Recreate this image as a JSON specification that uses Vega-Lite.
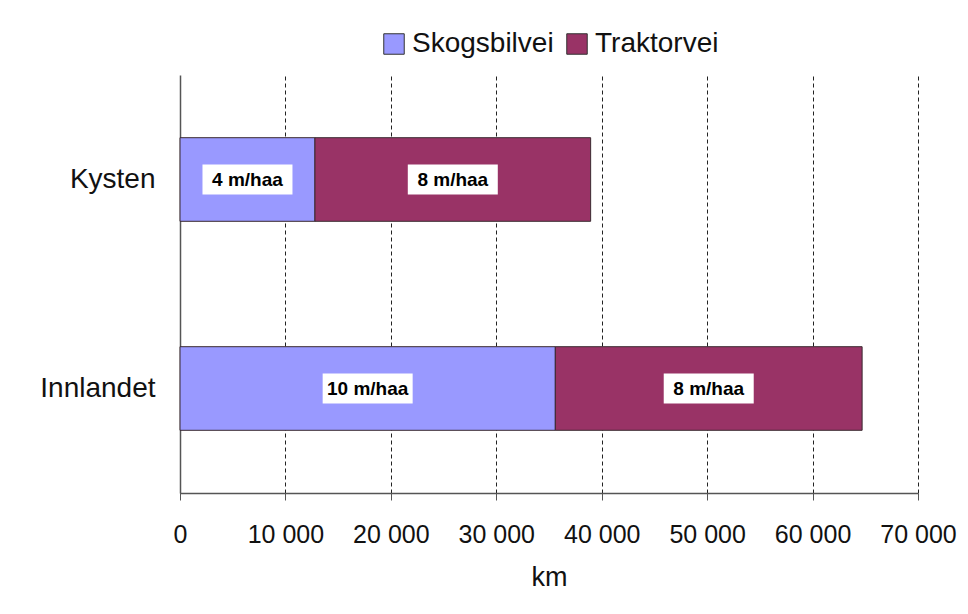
{
  "$schema": "https://vega.github.io/schema/vega-lite/v6.json",
  "width": 738,
  "height": 418,
  "autosize": {"type": "none"},
  "padding": {"left": 180, "top": 75, "right": 50, "bottom": 121},
  "background": "white",
  "config": {
    "view": {"stroke": null},
    "font": "Liberation Sans"
  },
  "data": {
    "values": [
      {"region": "Kysten", "type": "Skogsbilvei", "km": 12800, "label": "4 m/haa"},
      {"region": "Kysten", "type": "Traktorvei", "km": 26150, "label": "8 m/haa"},
      {"region": "Innlandet", "type": "Skogsbilvei", "km": 35600, "label": "10 m/haa"},
      {"region": "Innlandet", "type": "Traktorvei", "km": 29100, "label": "8 m/haa"}
    ]
  },
  "transform": [
    {"stack": "km", "groupby": ["region"], "sort": [{"field": "type", "order": "ascending"}], "as": ["km_start", "km_end"]}
  ],
  "encoding": {
    "y": {
      "field": "region",
      "type": "nominal",
      "sort": ["Kysten", "Innlandet"],
      "title": null,
      "scale": {"paddingInner": 0.6, "paddingOuter": 0.3},
      "axis": {
        "ticks": false,
        "labelFontSize": 28,
        "labelPadding": 25,
        "labelColor": "#111",
        "domainColor": "#555",
        "domainWidth": 1.5,
        "grid": false
      }
    }
  },
  "layer": [
    {
      "mark": {"type": "bar", "stroke": "#3a2a30", "strokeWidth": 1},
      "encoding": {
        "x": {
          "field": "km_start",
          "type": "quantitative",
          "scale": {"domain": [0, 70000], "nice": false},
          "title": "km",
          "axis": {
            "values": [0, 10000, 20000, 30000, 40000, 50000, 60000, 70000],
            "labelExpr": "replace(format(datum.value, ','), ',', ' ')",
            "labelFontSize": 25,
            "labelColor": "#111",
            "labelPadding": 22,
            "labelFlush": false,
            "labelOverlap": false,
            "tickColor": "#555",
            "tickSize": 7,
            "domainColor": "#555",
            "domainWidth": 1.5,
            "grid": true,
            "gridColor": "#222",
            "gridDash": [4, 3],
            "gridWidth": 1,
            "titleFontSize": 27,
            "titleFontWeight": "normal",
            "titleColor": "#111",
            "titlePadding": 17
          }
        },
        "x2": {"field": "km_end"},
        "color": {
          "field": "type",
          "type": "nominal",
          "scale": {"domain": ["Skogsbilvei", "Traktorvei"], "range": ["#9999FF", "#993366"]},
          "legend": {
            "title": null,
            "orient": "none",
            "legendX": 200,
            "legendY": -45,
            "direction": "horizontal",
            "symbolType": "square",
            "symbolSize": 420,
            "symbolStrokeColor": "#333",
            "symbolStrokeWidth": 1,
            "symbolOpacity": 1,
            "labelFontSize": 28,
            "labelColor": "#111",
            "labelOffset": 4,
            "columnPadding": 9
          }
        }
      }
    },
    {
      "transform": [{"fold": ["km_start", "km_end"], "as": ["edge", "pos"]}],
      "mark": {"type": "point", "shape": "M-1.5,-0.5H1.5V0.5H-1.5Z", "size": 3600, "filled": true, "fill": "white", "opacity": 1, "strokeWidth": 0},
      "encoding": {
        "x": {"aggregate": "mean", "field": "pos", "type": "quantitative", "title": "km"},
        "detail": [{"field": "type"}, {"field": "label"}]
      }
    },
    {
      "transform": [{"fold": ["km_start", "km_end"], "as": ["edge", "pos"]}],
      "mark": {"type": "text", "fontWeight": "bold", "fontSize": 19, "color": "#000"},
      "encoding": {
        "x": {"aggregate": "mean", "field": "pos", "type": "quantitative", "title": "km"},
        "text": {"field": "label"},
        "detail": {"field": "type"}
      }
    }
  ]
}
